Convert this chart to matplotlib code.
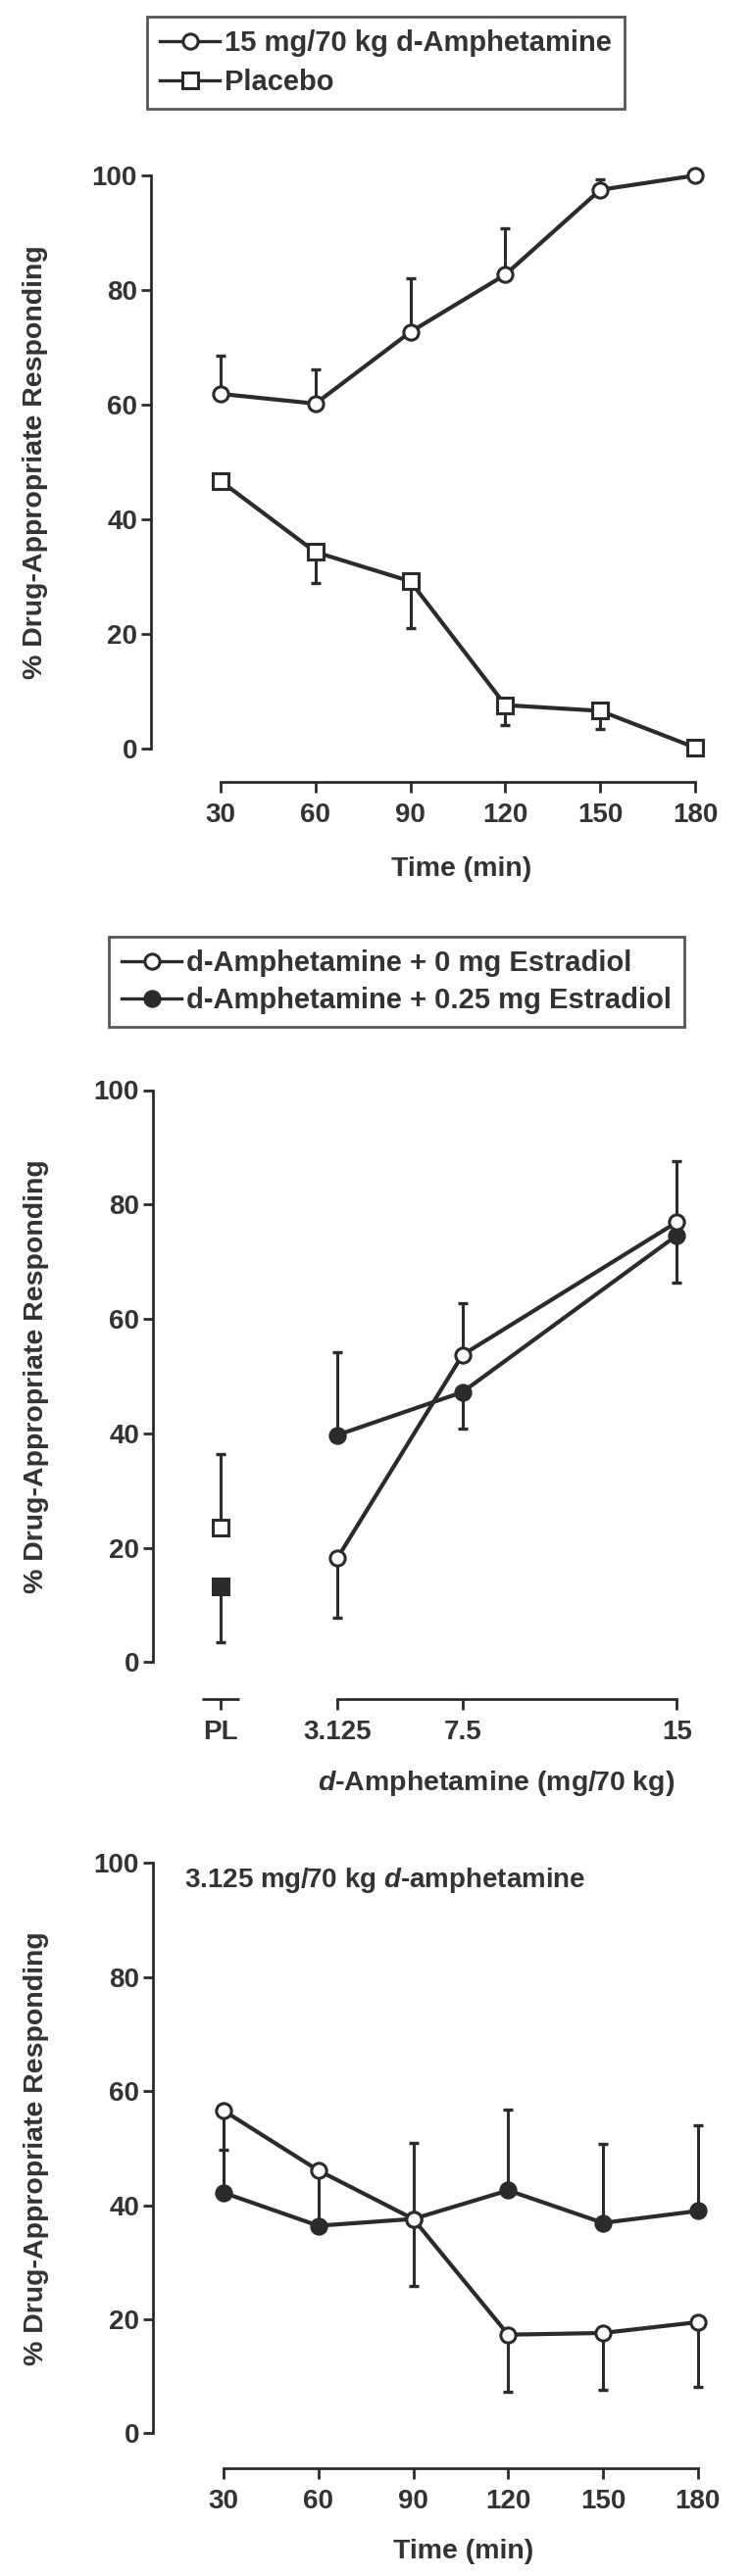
import matplotlib
matplotlib.use("Agg")
import matplotlib.pyplot as plt
from matplotlib.lines import Line2D

plt.rcParams['font.family'] = ['Liberation Sans', 'DejaVu Sans']
plt.rcParams['font.weight'] = 'bold'
plt.rcParams['axes.labelweight'] = 'bold'
plt.rcParams['mathtext.fontset'] = 'custom'
plt.rcParams['mathtext.it'] = 'Liberation Sans:italic:bold'
plt.rcParams['mathtext.rm'] = 'Liberation Sans:bold'

''' top panel: 15 mg/70 kg vs placebo over time '''
times = [30, 60, 90, 120, 150, 180]
amph15_mean = [61.9, 60.2, 72.7, 82.7, 97.5, 100.0]
amph15_err_hi = [6.6, 6.0, 9.3, 8.1, 1.9, 0.0]
placebo_mean = [46.7, 34.3, 29.2, 7.6, 6.6, 0.2]
placebo_err_lo = [0.7, 5.4, 8.2, 3.4, 3.1, 0.0]

''' middle panel: dose response, estradiol 0 vs 0.25 mg '''
doses = [3.125, 7.5, 15]
dose_labels = ['PL', '3.125', '7.5', '15']
pl_pos = -0.96
e0_mean = [18.2, 53.7, 76.9]
e0_err_lo = [10.4, 0.0, 0.0]
e0_err_hi = [0.0, 9.1, 10.6]
e25_mean = [39.7, 47.2, 74.6]
e25_err_lo = [0.0, 6.3, 8.3]
e25_err_hi = [14.4, 0.0, 0.0]
pl_e0_mean = 23.5
pl_e0_err_hi = 12.8
pl_e25_mean = 13.2
pl_e25_err_lo = 9.8

''' bottom panel: 3.125 mg over time '''
low_e0_mean = [56.6, 46.1, 37.6, 17.3, 17.6, 19.5]
low_e0_err_lo = [13.6, 9.1, 11.7, 10.0, 10.0, 11.4]
low_e25_mean = [42.2, 36.4, 37.6, 42.6, 36.9, 39.0]
low_e25_err_hi = [7.6, 0.0, 13.4, 14.1, 13.9, 15.1]

ink = '#2b2b2b'
txt = '#333333'
lw = 3.0
ms = 11
mew = 2.2
fs = 20

W, H = 766, 2629
fig = plt.figure(figsize=(W / 100, H / 100), dpi=100)


def px_rect(left, right, top, bottom):
    return [left / W, 1 - bottom / H, (right - left) / W, (bottom - top) / H]


def style_axes(ax, xbounds, offset):
    for s in ['top', 'right']:
        ax.spines[s].set_visible(False)
    ax.spines['left'].set_bounds(0, 100)
    ax.spines['bottom'].set_bounds(*xbounds)
    ax.spines['bottom'].set_position(('outward', offset))
    for s in ['left', 'bottom']:
        ax.spines[s].set_linewidth(2)
        ax.spines[s].set_color(ink)
    ax.set_ylim(0, 100)
    ax.set_yticks([0, 20, 40, 60, 80, 100])
    ax.tick_params(axis='y', length=7, width=2, color=ink, pad=3,
                   labelsize=fs, labelcolor=txt)
    ax.tick_params(axis='x', length=8, width=2, color=ink, pad=7,
                   labelsize=fs, labelcolor=txt)
    ax.set_ylabel('% Drug-Appropriate Responding', fontsize=20.5, color=txt)
    ax.yaxis.label.set_va('center')
    ax.yaxis.label.set_ha('center')


def errs(ax, x, y, lo, hi):
    ax.errorbar(x, y, yerr=[lo, hi], fmt='none', ecolor=ink, elinewidth=2.2,
                capsize=3.8, capthick=2.4, zorder=2, clip_on=False)


def line(ax, x, y, marker, filled):
    ax.plot(x, y, color=ink, lw=lw, marker=marker, ms=ms, mew=mew,
            mec=ink, mfc=ink if filled else 'white', zorder=3, clip_on=False)


def handle(marker, filled, label):
    return Line2D([], [], color=ink, lw=2.4, marker=marker, ms=ms, mew=mew,
                  mec=ink, mfc=ink if filled else 'white', label=label)


# ---- panel 1
ax1 = fig.add_axes(px_rect(154, 730, 179.1, 764.1))
ax1.set_xlim(8.0, 186.5)
errs(ax1, times, amph15_mean, [0] * 6, amph15_err_hi)
errs(ax1, times, placebo_mean, placebo_err_lo, [0] * 6)
line(ax1, times, amph15_mean, 'o', False)
line(ax1, times, placebo_mean, 's', False)
style_axes(ax1, (30, 180), 24.5)
ax1.set_xticks(times)
ax1.set_xlabel('Time (min)', fontsize=20.5, color=txt)
ax1.xaxis.label.set_va('center')
ax1.xaxis.set_label_coords(0.549, -0.210)
ax1.yaxis.set_label_coords(-0.204, 0.5)

leg1 = fig.legend(handles=[handle('o', False, '15 mg/70 kg d-Amphetamine'),
                           handle('s', False, 'Placebo')],
                  loc='upper left', bbox_to_anchor=(150 / W, 1 - 17 / H),
                  borderaxespad=0, fontsize=21, frameon=True, fancybox=False,
                  handlelength=2.1, handletextpad=0.15, labelspacing=0.4,
                  borderpad=0.45, numpoints=1)
leg1.get_frame().set_edgecolor(ink)
leg1.get_frame().set_linewidth(2)
for t in leg1.get_texts():
    t.set_color(txt)

# ---- panel 2
ax2 = fig.add_axes(px_rect(156, 730, 1112.5, 1696.3))
ax2.set_xlim(-3.33, 16.36)
errs(ax2, doses, e0_mean, e0_err_lo, e0_err_hi)
errs(ax2, doses, e25_mean, e25_err_lo, e25_err_hi)
errs(ax2, [pl_pos], [pl_e0_mean], [0], [pl_e0_err_hi])
errs(ax2, [pl_pos], [pl_e25_mean], [pl_e25_err_lo], [0])
line(ax2, doses, e25_mean, 'o', True)
line(ax2, doses, e0_mean, 'o', False)
line(ax2, [pl_pos], [pl_e0_mean], 's', False)
line(ax2, [pl_pos], [pl_e25_mean], 's', True)
style_axes(ax2, (doses[0], doses[-1]), 27.3)
ax2.set_xticks([pl_pos] + doses)
ax2.set_xticklabels(dose_labels)
# short axis piece under the placebo points
ax2.plot([pl_pos - 0.65, pl_pos + 0.65], [-0.065, -0.065], color=ink, lw=2,
         solid_capstyle='butt', transform=ax2.get_xaxis_transform(), clip_on=False)
ax2.set_xlabel('$d$-Amphetamine (mg/70 kg)', fontsize=20.5, color=txt)
ax2.xaxis.label.set_va('center')
ax2.xaxis.set_label_coords(0.610, -0.212)
ax2.yaxis.set_label_coords(-0.208, 0.5)

leg2 = fig.legend(handles=[handle('o', False, 'd-Amphetamine + 0 mg Estradiol'),
                           handle('o', True, 'd-Amphetamine + 0.25 mg Estradiol')],
                  loc='upper left', bbox_to_anchor=(111 / W, 1 - 956 / H),
                  borderaxespad=0, fontsize=21, frameon=True, fancybox=False,
                  handlelength=2.1, handletextpad=0.15, labelspacing=0.35,
                  borderpad=0.45, numpoints=1)
leg2.get_frame().set_edgecolor(ink)
leg2.get_frame().set_linewidth(2)
for t in leg2.get_texts():
    t.set_color(txt)

# ---- panel 3
ax3 = fig.add_axes(px_rect(156, 730, 1901.4, 2483.4))
ax3.set_xlim(7.7, 185.6)
errs(ax3, times, low_e0_mean, low_e0_err_lo, [0] * 6)
errs(ax3, times, low_e25_mean, [0] * 6, low_e25_err_hi)
line(ax3, times, low_e25_mean, 'o', True)
line(ax3, times, low_e0_mean, 'o', False)
style_axes(ax3, (30, 180), 25.9)
ax3.set_xticks(times)
ax3.set_xlabel('Time (min)', fontsize=20.5, color=txt)
ax3.xaxis.label.set_va('center')
ax3.xaxis.set_label_coords(0.551, -0.207)
ax3.yaxis.set_label_coords(-0.208, 0.5)
ax3.text(0.0557, 0.970, '3.125 mg/70 kg $d$-amphetamine', transform=ax3.transAxes,
         fontsize=fs, color=txt, ha='left', va='center')

fig.savefig('out.png', dpi=100)
